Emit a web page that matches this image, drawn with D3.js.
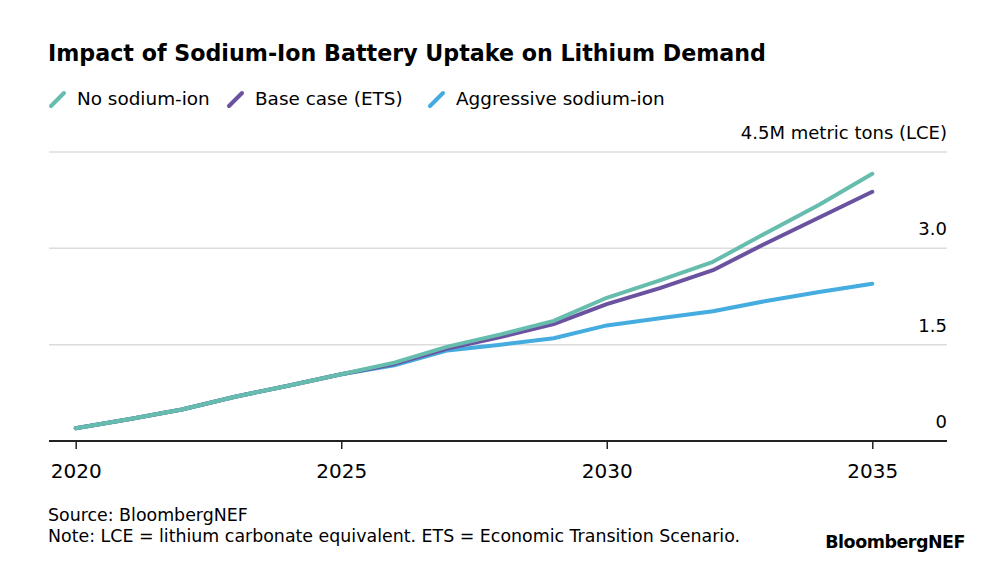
<!DOCTYPE html>
<html>
<head>
<meta charset="utf-8">
<script src="https://cdn.jsdelivr.net/npm/d3@7"></script>
<style>
body{
	margin: 0;
	background: #fff;
	font-family: "DejaVu Sans", Arial, sans-serif;
	color: #000;
}
.grid line{
	stroke: #dcdcdc;
	stroke-width: 1.5;
}
.line{
	fill: none;
	stroke-width: 4;
	stroke-linejoin: round;
	stroke-linecap: round;
}
</style>
</head>
<body>
<div id="chart"></div>
<script>
// data
var years = [2020,2021,2022,2023,2024,2025,2026,2027,2028,2029,2030,2031,2032,2033,2034,2035];
var noSodium   = [0.20,0.34,0.49,0.69,0.86,1.04,1.22,1.47,1.66,1.87,2.23,2.50,2.79,3.24,3.68,4.16];
var baseCase   = [0.20,0.34,0.49,0.69,0.86,1.04,1.20,1.44,1.62,1.82,2.13,2.38,2.66,3.08,3.48,3.88];
var aggressive = [0.20,0.34,0.49,0.69,0.86,1.04,1.18,1.41,1.50,1.60,1.80,1.91,2.02,2.18,2.32,2.45];
var seriesNames = ["No sodium-ion","Base case (ETS)","Aggressive sodium-ion"];
var seriesColors = ["#66bdad","#6b52a1","#45ace0"];
var yTicks = [0,1.5,3.0,4.5];
var xTicks = [2020,2025,2030,2035];

var W = 1000, H = 563;
var plotLeft = 49, plotRight = 947, plotTop = 152, plotBottom = 441;

var svg = d3.select("#chart").append("svg")
	.attr("width", W)
	.attr("height", H);

var x = d3.scaleLinear().domain([2020,2035]).range([75.7,872.3]);
var y = d3.scaleLinear().domain([0,4.5]).range([plotBottom, plotTop]);

// title
svg.append("text")
	.attr("x", 48).attr("y", 61)
	.attr("font-size", 23)
	.attr("font-weight", "bold")
	.attr("textLength", 718)
	.attr("lengthAdjust", "spacingAndGlyphs")
	.text("Impact of Sodium-Ion Battery Uptake on Lithium Demand");

// legend
var legendX = [50, 228, 429];
seriesNames.forEach(function(name, i){
	var g = svg.append("g").attr("transform", "translate(" + legendX[i] + ",0)");
	g.append("line")
		.attr("x1", 1).attr("y1", 106).attr("x2", 14).attr("y2", 93)
		.attr("stroke", seriesColors[i])
		.attr("stroke-width", 4)
		.attr("stroke-linecap", "round");
	g.append("text")
		.attr("x", 27).attr("y", 105)
		.attr("font-size", 18.4)
		.text(name);
});

// gridlines
var grid = svg.append("g").attr("class", "grid");
grid.selectAll("line").data(yTicks.filter(function(d){ return d > 0; }))
	.enter().append("line")
	.attr("x1", plotLeft).attr("x2", plotRight)
	.attr("y1", function(d){ return y(d); })
	.attr("y2", function(d){ return y(d); });

// y labels, sitting above the gridline
svg.selectAll("text.ylab").data(yTicks)
	.enter().append("text")
	.attr("class", "ylab")
	.attr("x", plotRight)
	.attr("y", function(d){ return y(d) - 13; })
	.attr("text-anchor", "end")
	.attr("font-size", 18)
	.text(function(d){ return d == 0 ? "0" : (d == 4.5 ? "4.5M metric tons (LCE)" : d.toFixed(1)); });

// x axis
var xAxis = d3.axisBottom(x)
	.tickValues(xTicks)
	.tickFormat(d3.format("d"))
	.tickSize(8)
	.tickPadding(15);
var ax = svg.append("g")
	.attr("transform", "translate(0," + plotBottom + ")")
	.call(xAxis);
ax.select(".domain").remove();
ax.insert("line", ":first-child")
	.attr("x1", plotLeft).attr("x2", plotRight)
	.attr("stroke", "#222").attr("stroke-width", 2);
ax.selectAll(".tick line").attr("stroke", "#222").attr("stroke-width", 1.5);
ax.selectAll(".tick text")
	.attr("font-family", "DejaVu Sans, Arial, sans-serif")
	.attr("font-size", 20)
	.attr("fill", "#000");

// lines
var line = d3.line()
	.x(function(d){ return x(d[0]); })
	.y(function(d){ return y(d[1]); });

var allSeries = [noSodium, baseCase, aggressive];
// blue first, then purple, green on top
[2,1,0].forEach(function(i){
	svg.append("path")
		.attr("class", "line")
		.attr("stroke", seriesColors[i])
		.attr("d", line(d3.zip(years, allSeries[i])));
});

// footer
svg.append("text").attr("x", 48).attr("y", 521).attr("font-size", 17.4).text("Source: BloombergNEF");
svg.append("text").attr("x", 48).attr("y", 542).attr("font-size", 17.4)
	.text("Note: LCE = lithium carbonate equivalent. ETS = Economic Transition Scenario.");
svg.append("text").attr("x", 965).attr("y", 548)
	.attr("text-anchor", "end")
	.attr("font-size", 17.5)
	.attr("font-weight", "bold")
	.attr("letter-spacing", -0.5)
	.text("BloombergNEF");
</script>
</body>
</html>
